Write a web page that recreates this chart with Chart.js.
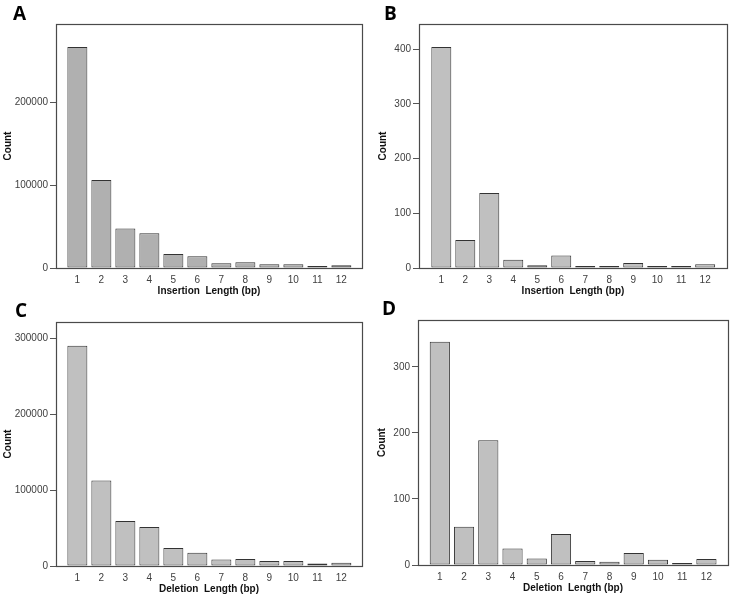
<!DOCTYPE html>
<html>
<head>
<meta charset="utf-8">
<script src="https://cdn.jsdelivr.net/npm/chart.js@4/dist/chart.umd.min.js"></script>
<style>
  body { margin: 0; background: #fff; }
  #wrap { position: relative; width: 732px; height: 598px; overflow: hidden; }
  .panel { position: absolute; }
  .letra { position: absolute; font-family: "Open Sans", sans-serif; font-weight: 700; font-size: 19px; line-height: 19px; color: #000; }
</style>
</head>
<body>
<div id="wrap">
  <div class="panel" style="left:0;top:0;width:366px;height:299px"><canvas id="chartA"></canvas></div>
  <div class="panel" style="left:366px;top:0;width:366px;height:299px"><canvas id="chartB"></canvas></div>
  <div class="panel" style="left:0;top:298px;width:366px;height:300px"><canvas id="chartC"></canvas></div>
  <div class="panel" style="left:366px;top:298px;width:366px;height:300px"><canvas id="chartD"></canvas></div>
  <div class="letra" style="left:13px;top:4px">A</div>
  <div class="letra" style="left:384px;top:4px">B</div>
  <div class="letra" style="left:15px;top:301px">C</div>
  <div class="letra" style="left:382px;top:299px">D</div>
</div>
<script>
// lunghezze (bp)
var lunghezze = [1, 2, 3, 4, 5, 6, 7, 8, 9, 10, 11, 12];

// conteggi
var insAll = [266400, 106000, 47500, 42000, 17000, 14100, 5700, 6900, 4500, 4500, 2000, 3200];
var insB = [404, 51, 137, 15, 5, 23, 2, 3, 9, 1, 2, 7];
var delAll = [290300, 112600, 59200, 51300, 23700, 17500, 8700, 9200, 6600, 6600, 3400, 4300];
var delD = [338, 58, 189, 25, 10, 47, 6, 5, 18, 8, 3, 9];

// tacche asse y
var tickA = [0, 100000, 200000];
var tickB = [0, 100, 200, 300, 400];
var tickC = [0, 100000, 200000, 300000];
var tickD = [0, 100, 200, 300];

// cornice intorno all'area del grafico
var cornice = {
  id: 'cornice',
  afterDraw: function(chart) {
    var a = chart.chartArea;
    var ctx = chart.ctx;
    ctx.save();
    ctx.strokeStyle = '#4a4a4a';
    ctx.lineWidth = 1.2;
    ctx.strokeRect(Math.round(a.left) + 0.5, Math.round(a.top) + 0.5, Math.round(a.right - a.left), Math.round(a.bottom - a.top));
    ctx.restore();
  }
};

function creaGrafico(id, valori, tacche, cfg) {
  var punti = lunghezze.map(function(l, i) { return { x: l, y: valori[i] }; });
  return new Chart(document.getElementById(id), {
    type: 'bar',
    data: {
      datasets: [{
        data: punti,
        backgroundColor: cfg.fill,
        borderColor: '#333333',
        borderWidth: 1,
        borderSkipped: false,
        minBarLength: 2,
        barPercentage: 0.833,
        categoryPercentage: 1
      }]
    },
    options: {
      responsive: true,
      maintainAspectRatio: false,
      animation: false,
      events: [],
      layout: { padding: { left: 0, right: cfg.padRight, top: cfg.top, bottom: cfg.padBottom } },
      plugins: { legend: { display: false }, tooltip: { enabled: false } },
      scales: {
        x: {
          type: 'linear',
          offset: false,
          min: cfg.xmin,
          max: cfg.xmax,
          afterBuildTicks: function(scale) {
            scale.ticks = lunghezze.map(function(v) { return { value: v }; });
          },
          afterFit: function(scale) { scale.height = 29; },
          grid: { display: false, drawTicks: false },
          border: { display: false },
          ticks: {
            padding: 6,
            color: '#404040',
            font: { family: 'Liberation Sans, Arial, sans-serif', size: 10 },
            callback: function(v) { return String(v); }
          },
          title: {
            display: true,
            text: cfg.xtitle,
            padding: 0,
            color: '#111',
            font: { family: 'Liberation Sans, Arial, sans-serif', size: 10, weight: 'bold' }
          }
        },
        y: {
          min: 0,
          max: cfg.ymax,
          afterBuildTicks: function(scale) {
            scale.ticks = tacche.map(function(v) { return { value: v }; });
          },
          afterFit: function(scale) { scale.width = cfg.yWidth; },
          grid: { drawOnChartArea: false, drawTicks: true, tickLength: 6, color: '#555' },
          border: { display: false },
          ticks: {
            padding: 2,
            color: '#404040',
            font: { family: 'Liberation Sans, Arial, sans-serif', size: 10 },
            callback: function(v) { return String(v); }
          },
          title: {
            display: true,
            text: 'Count',
            padding: cfg.titlePad,
            color: '#111',
            font: { family: 'Liberation Sans, Arial, sans-serif', size: 10, weight: 'bold' }
          }
        }
      }
    },
    plugins: [cornice]
  });
}

creaGrafico('chartA', insAll, tickA, {
  fill: '#b0b0b0', ymax: 294000, yWidth: 56, padRight: 4, top: 24, padBottom: 2,
  xmin: 0.11, xmax: 12.86, titlePad: 2, xtitle: 'Insertion  Length (bp)'
});
creaGrafico('chartB', insB, tickB, {
  fill: '#c0c0c0', ymax: 446, yWidth: 53, padRight: 5, top: 24, padBottom: 2,
  xmin: 0.07, xmax: 12.91, titlePad: 11, xtitle: 'Insertion  Length (bp)'
});
creaGrafico('chartC', delAll, tickC, {
  fill: '#c0c0c0', ymax: 321500, yWidth: 56, padRight: 4, top: 24, padBottom: 3,
  xmin: 0.11, xmax: 12.86, titlePad: 2, xtitle: 'Deletion  Length (bp)'
});
creaGrafico('chartD', delD, tickD, {
  fill: '#c0c0c0', ymax: 371, yWidth: 52, padRight: 4, top: 22, padBottom: 4,
  xmin: 0.1, xmax: 12.89, titlePad: 10, xtitle: 'Deletion  Length (bp)'
});
</script>
</body>
</html>
